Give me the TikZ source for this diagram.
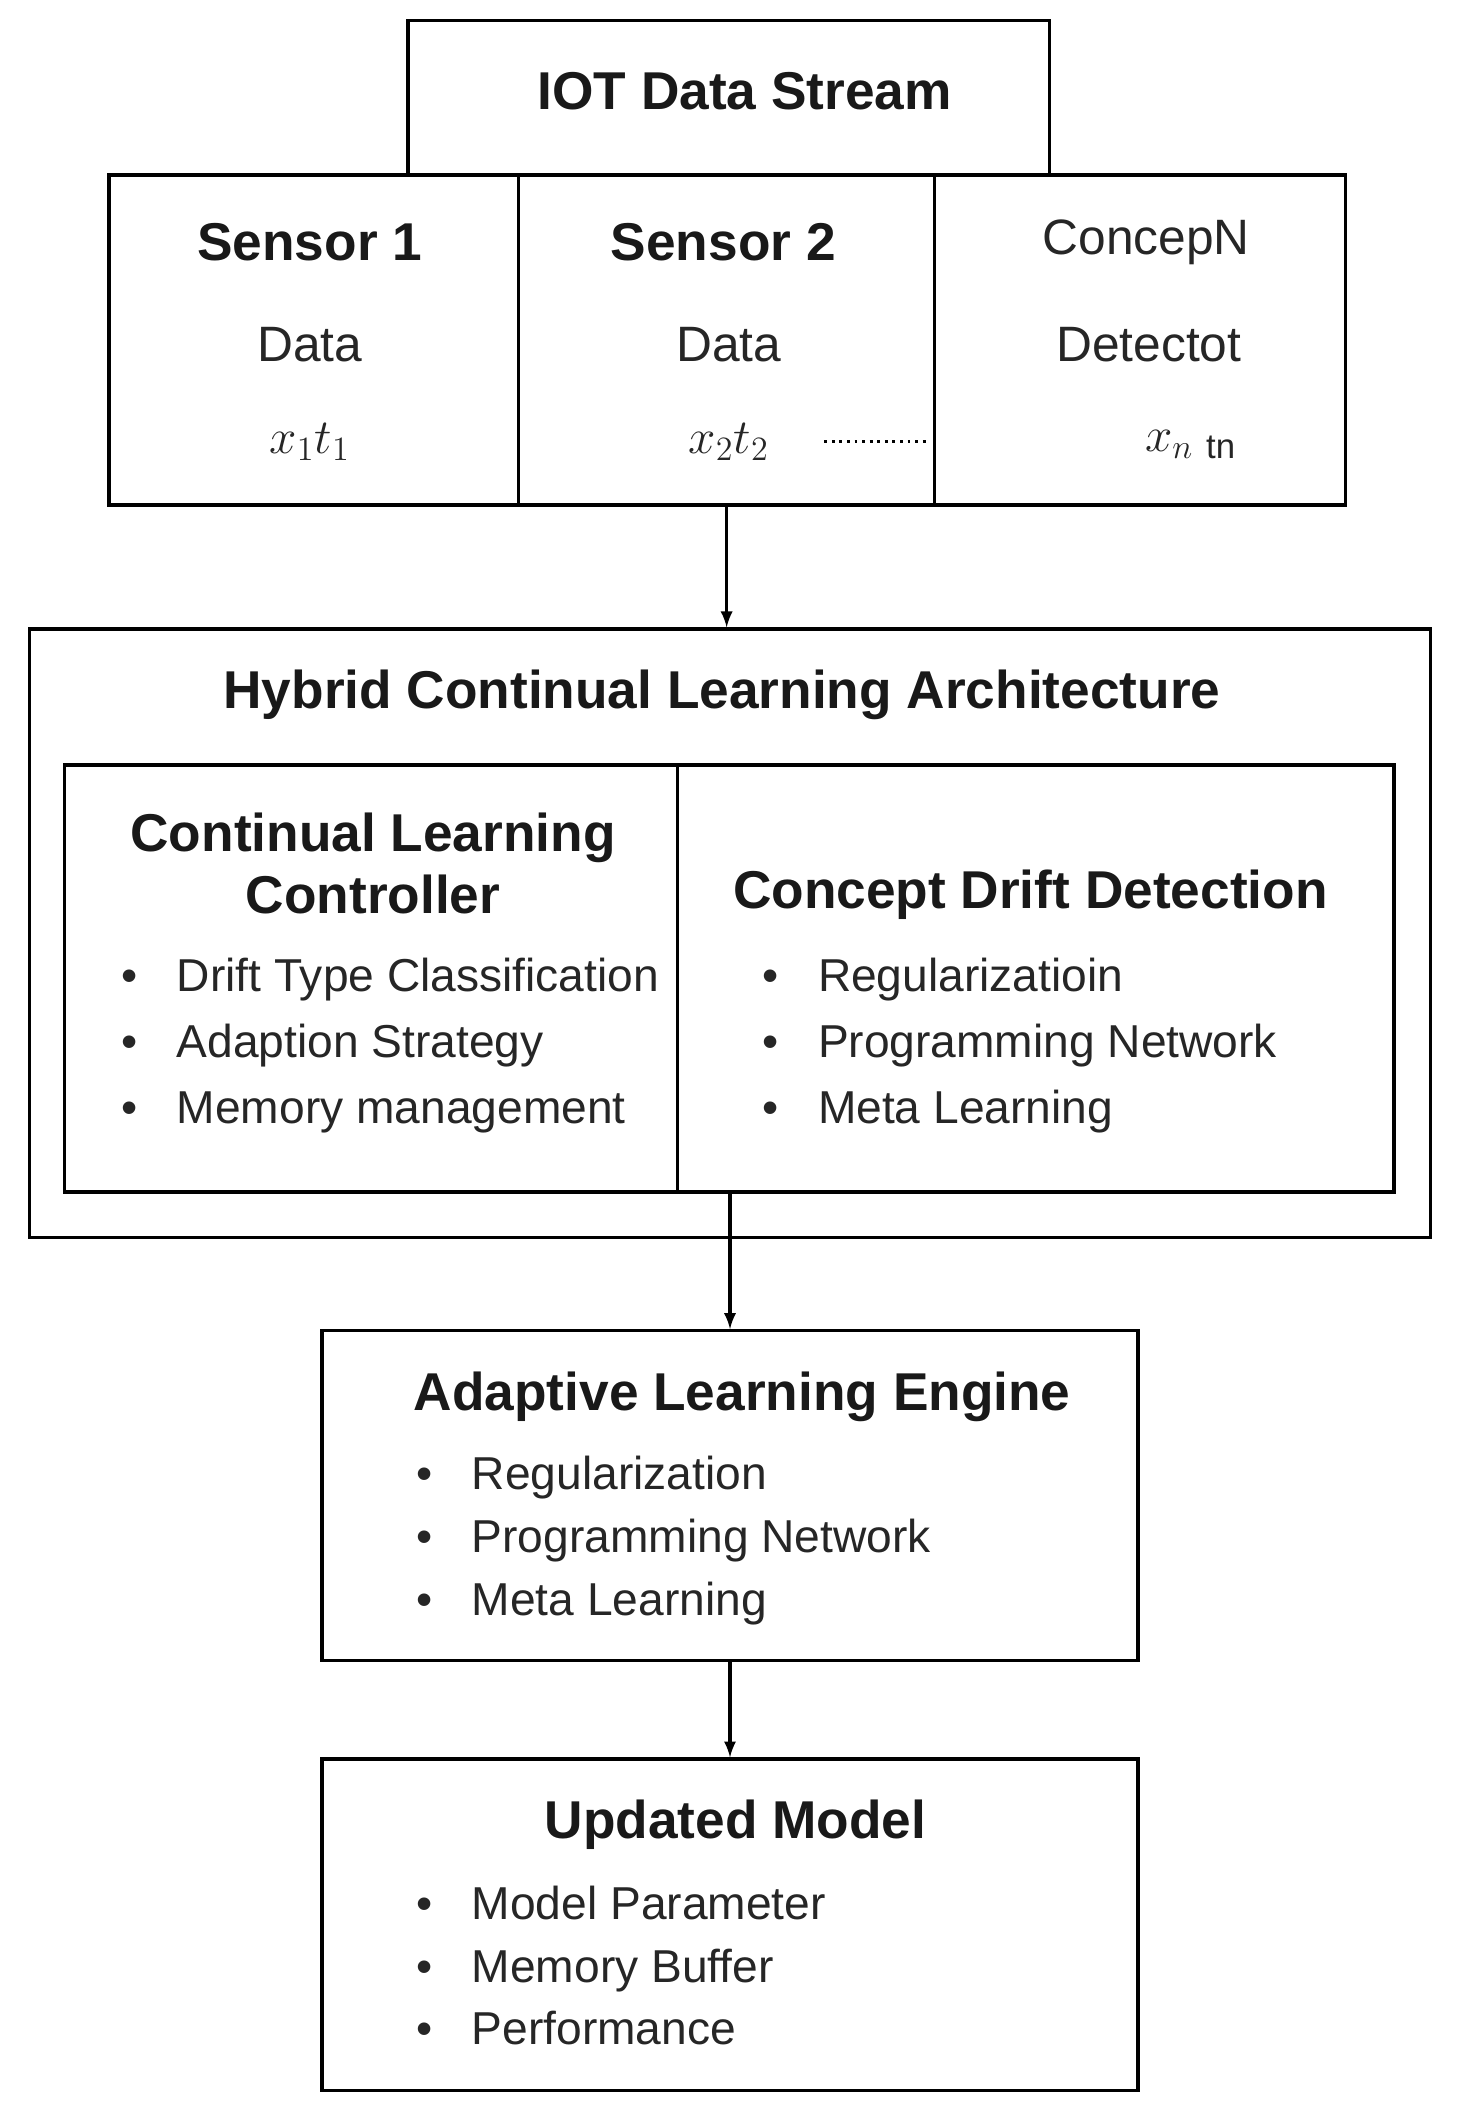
\documentclass[tikz,border=0pt]{standalone}
\usepackage{fontspec}
\setmainfont{Liberation Sans}
\usetikzlibrary{positioning}

\tikzset{
  box/.style={draw, line width=1.4pt, inner sep=0pt},
  ttl/.style={font=\fontsize{22.5}{26}\selectfont\bfseries, align=center, color=black!90},
  txt/.style={font=\fontsize{21}{25}\selectfont, color=black!85},
  lst/.style={font=\fontsize{19.5}{28}\selectfont, align=left, anchor=north west, color=black!85},
  lsts/.style={lst, font=\fontsize{19.5}{26.5}\selectfont},
  arr/.style={-latex, line width=1.3pt}
}
\newcommand{\itm}{\textbullet\hspace{0.85em}}

\begin{document}
\begin{tikzpicture}[x=0.02cm,y=-0.02cm]
	\useasboundingbox (0,0) rectangle (1082,1574);

	% stream and sensors
	\node[box, minimum width=476*0.02cm, minimum height=115*0.02cm] (iot) at (541,72.5) {};
	\node[ttl] (iotT) at (553,68) {IOT Data Stream};
	\node[box, minimum width=304*0.02cm, minimum height=245*0.02cm] (s1) at (233,252.5) {};
	\node[box, minimum width=309*0.02cm, minimum height=245*0.02cm] (s2) at (539.5,252.5) {};
	\node[box, minimum width=305*0.02cm, minimum height=245*0.02cm] (s3) at (846.5,252.5) {};

	\node[ttl] (s1a) at (230,180) {Sensor 1};
	\node[txt] (s1b) at (230,256) {Data};
	\node[txt] (s1c) at (230,328) {$x_1t_1$};
	\node[ttl] (s2a) at (537,180) {Sensor 2};
	\node[txt] (s2b) at (541,256) {Data};
	\node[txt] (s2c) at (541,328) {$x_2t_2$};
	\node[txt] (s3a) at (851,180) {ConcepN};
	\node[txt] (s3b) at (853,256) {Detectot};
	\node[txt] (s3c) at (884,330) {$x_{n\ \mathrm{tn}}$};
	\coordinate (d1) at (612,328);
	\coordinate (d2) at (690,328);
	\draw[dotted, line width=1.2pt] (d1) -- (d2);

	% hybrid architecture
	\node[box, minimum width=1040*0.02cm, minimum height=452*0.02cm] (hca) at (542,693) {};
	\node[ttl] (hcaT) at (536,516) {Hybrid Continual Learning Architecture};
	\node[box, minimum width=455*0.02cm, minimum height=317*0.02cm] (clc) at (275.5,726.5) {};
	\node[box, minimum width=532*0.02cm, minimum height=317*0.02cm] (cdd) at (769,726.5) {};
	\node[ttl] (clcT) at (277,641) {Continual Learning\\Controller};
	\node[lst] (clcL) at (84,705) {\itm Drift Type Classification\\\itm Adaption Strategy\\\itm Memory management};
	\node[ttl] (cddT) at (765,664) {Concept Drift Detection};
	\node[lst] (cddL) at (560,705) {\itm Regularizatioin\\\itm Programming Network\\\itm Meta Learning};

	% engine
	\node[box, minimum width=606*0.02cm, minimum height=245*0.02cm] (ale) at (542,1110.5) {};
	\node[ttl] (aleT) at (551,1037) {Adaptive Learning Engine};
	\node[lsts] (aleL) at (303,1075) {\itm Regularization\\\itm Programming Network\\\itm Meta Learning};

	% model
	\node[box, minimum width=606*0.02cm, minimum height=246*0.02cm] (upd) at (542,1429) {};
	\node[ttl] (updT) at (546,1355) {Updated Model};
	\node[lsts] (updL) at (303,1394) {\itm Model Parameter\\\itm Memory Buffer\\\itm Performance};

	\draw[arr] (s2.south) -- (s2.south |- hca.north);
	\draw[arr] (hca.south |- clc.south) -- (ale.north);
	\draw[arr] (ale.south) -- (upd.north);
\end{tikzpicture}
\end{document}
